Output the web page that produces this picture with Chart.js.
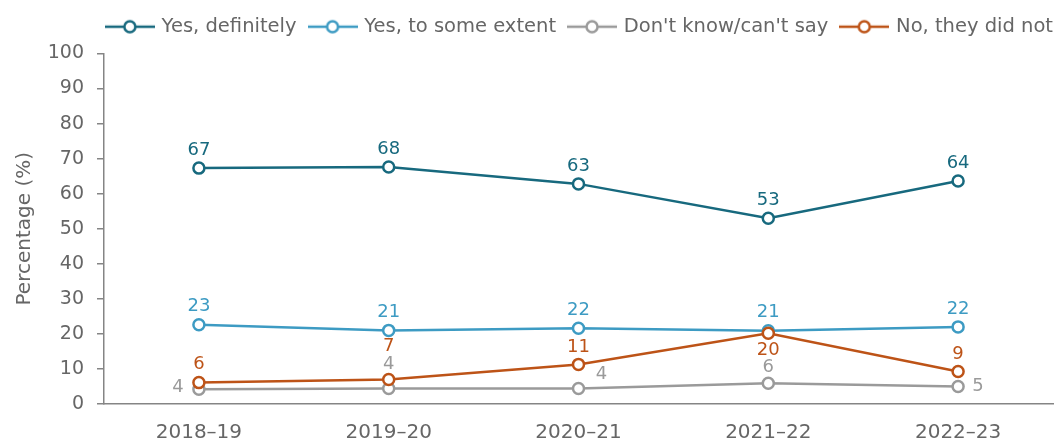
<!DOCTYPE html>
<html>
<head>
<meta charset="utf-8">
<script src="https://cdn.jsdelivr.net/npm/chart.js@4.4.1/dist/chart.umd.min.js"></script>
<style>
  html, body { margin: 0; padding: 0; background: #ffffff; }
  #wrap { width: 1061px; height: 443px; }
</style>
</head>
<body>
<div id="wrap"><canvas id="c" width="1061" height="443"></canvas></div>
<script>
// ---- Data ----
const categories = ['2018–19', '2019–20', '2020–21', '2021–22', '2022–23'];
const yesDefinitely = [67.3, 67.6, 62.8, 53.0, 63.6];
const yesSomeExtent = [22.6, 21.0, 21.6, 20.9, 22.0];
const dontKnow = [4.2, 4.4, 4.4, 5.9, 5.0];
const noTheyDidNot = [6.1, 7.0, 11.3, 20.2, 9.3];
const seriesNames = ['Yes, definitely', 'Yes, to some extent', "Don't know/can't say", 'No, they did not'];
const yTicks = [0, 10, 20, 30, 40, 50, 60, 70, 80, 90, 100];

// ---- Styles ----
const colors = ['#17697e', '#3d9bc3', '#9a9a9a', '#bd5317'];
const textColor = '#666666';
const axisColor = '#858585';
const FONT = '"DejaVu Sans", "Liberation Sans", Arial, sans-serif';
// label offsets [dx, dy] relative to each point (style only)
const labelOffsets = [
  [[0,-18],[0,-18],[0,-18],[0,-18],[0,-18]],
  [[0,-18],[0,-18],[0,-18],[0,-18],[0,-18]],
  [[-21,-2],[0,-24],[23,-14],[0,-16],[20,0]],
  [[0,-18],[0,-33],[0,-17],[0,17],[0,-17]]
];

function makeIcon(color) {
  const cv = document.createElement('canvas');
  cv.width = 50; cv.height = 16;
  const g = cv.getContext('2d');
  g.strokeStyle = color; g.lineWidth = 2.5;
  g.beginPath(); g.moveTo(0, 8); g.lineTo(50, 8); g.stroke();
  g.beginPath(); g.arc(25, 8, 5.5, 0, Math.PI * 2);
  g.fillStyle = '#ffffff'; g.fill(); g.stroke();
  return cv;
}
const icons = colors.map(makeIcon);

const seriesData = [yesDefinitely, yesSomeExtent, dontKnow, noTheyDidNot];
const drawOrder = [3, 2, 1, 0];

const datasets = seriesData.map((d, i) => ({
  label: seriesNames[i],
  data: d,
  borderColor: colors[i],
  backgroundColor: colors[i],
  pointBackgroundColor: '#ffffff',
  pointBorderColor: colors[i],
  pointBorderWidth: 2.5,
  pointRadius: 5.5,
  borderWidth: 2.5,
  tension: 0,
  order: drawOrder[i],
  clip: false
}));

const labelPlugin = {
  id: 'pointLabels',
  afterDatasetsDraw(chart) {
    const ctx = chart.ctx;
    ctx.save();
    ctx.font = '18px ' + FONT;
    ctx.textAlign = 'center';
    ctx.textBaseline = 'middle';
    chart.data.datasets.forEach((ds, i) => {
      const meta = chart.getDatasetMeta(i);
      ctx.fillStyle = colors[i];
      meta.data.forEach((pt, j) => {
        const off = labelOffsets[i][j];
        ctx.fillText(String(Math.round(ds.data[j])), pt.x + off[0], pt.y + off[1]);
      });
    });
    ctx.restore();
  }
};

const legendSpacer = {
  id: 'legendSpacer',
  beforeLayout(chart) {
    const lg = chart.legend;
    if (lg && !lg._patched) {
      const orig = lg.fit;
      lg.fit = function () { orig.call(this); this.height += 7; };
      lg._patched = true;
    }
  },
  afterLayout(chart) {
    const lg = chart.legend;
    if (lg) { lg.left += 12; lg.right += 12; }
  }
};

new Chart(document.getElementById('c'), {
  type: 'line',
  data: { labels: categories, datasets },
  plugins: [labelPlugin, legendSpacer],
  options: {
    responsive: false,
    animation: false,
    devicePixelRatio: 1,
    layout: { padding: { left: 0, right: 6, top: 3, bottom: 0 } },
    plugins: {
      tooltip: { enabled: false },
      legend: {
        display: true,
        position: 'top',
        align: 'end',
        labels: {
          usePointStyle: true,
          pointStyleWidth: 44,
          boxHeight: 16,
          padding: 14,
          color: textColor,
          font: { family: FONT, size: 19.5 },
          sort: (a, b) => a.datasetIndex - b.datasetIndex,
          generateLabels(chart) {
            const items = Chart.defaults.plugins.legend.labels.generateLabels(chart);
            items.forEach(it => { it.pointStyle = icons[it.datasetIndex]; });
            return items;
          }
        }
      }
    },
    scales: {
      x: {
        offset: true,
        grid: { display: false, drawTicks: false, tickLength: 0 },
        border: { display: true, color: axisColor, width: 1.5 },
        ticks: { color: textColor, font: { family: FONT, size: 20 }, padding: 17, maxRotation: 0 },
        afterFit(s) { s.height = 39; }
      },
      y: {
        min: 0, max: 100,
        afterBuildTicks(s) { s.ticks = yTicks.map(v => ({ value: v })); },
        grid: { display: true, drawOnChartArea: false, drawTicks: true, tickLength: 7, color: axisColor, lineWidth: 1.5 },
        border: { display: true, color: axisColor, width: 1.5 },
        ticks: { color: textColor, font: { family: FONT, size: 19 }, padding: 13 },
        title: { display: true, text: 'Percentage (%)', color: textColor, font: { family: FONT, size: 20 }, padding: { top: 13, bottom: 0 } },
        afterFit(s) { s.width = 104; }
      }
    }
  }
});
</script>
</body>
</html>
